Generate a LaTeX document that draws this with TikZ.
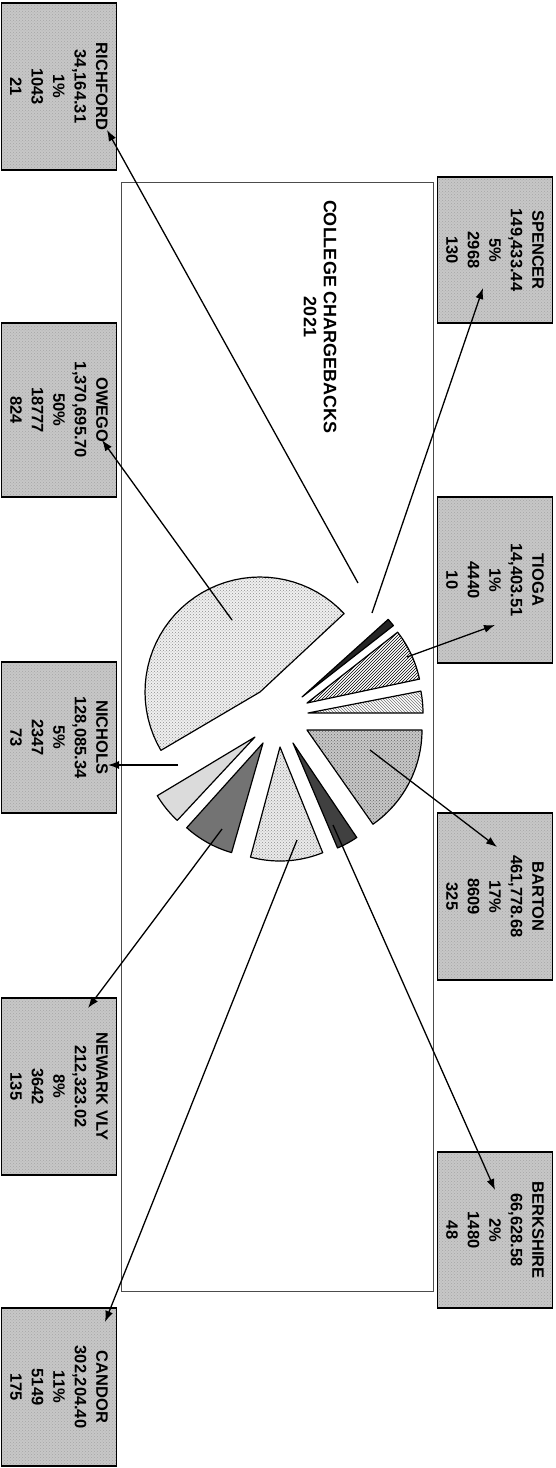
\documentclass[tikz,border=0pt]{standalone}
\usepackage{fontspec}
\setmainfont{Liberation Sans}
\usetikzlibrary{arrows.meta,patterns}
\newcommand\pieslice[6]{\path[slice,#6] (#1,#2) -- plot[domain=#4:#5,samples=40] ({#1+#3*cos(\x)},{#2+#3*sin(\x)}) -- cycle;}
\begin{document}
\begin{tikzpicture}[x=1pt,y=-1pt,
  lbl/.style={draw=black,line width=1.8pt,preaction={fill=black!22},pattern=crosshatch dots,pattern color=black!35,rotate=-90,inner sep=0pt,minimum height=115pt,align=center,font=\fontsize{16.5}{21.5}\selectfont\bfseries},
  lead/.style={line width=1.3pt,-{Latex[length=11pt,width=8pt]}},
  slice/.style={draw=black,line width=1.2pt,line join=round}
]
\useasboundingbox (0,0) rectangle (556,1468);
\fill[white] (0,0) rectangle (556,1468);
% frame
\draw[line width=0.7pt,black!70] (121,182) rectangle (433,1291);
\node[rotate=-90,align=center,font=\fontsize{18}{20}\selectfont\bfseries] (title) at (320,317) {COLLEGE CHARGEBACKS\\2021};
% pie slices
\pieslice{260}{692}{115}{149.5}{317}{preaction={fill=black!6},pattern=crosshatch dots,pattern color=black!45}
\pieslice{302}{697}{116}{318}{322}{fill=black!85}
\pieslice{307}{703}{115}{322}{348}{pattern=north east lines}
\pieslice{308}{713}{115}{349}{360}{pattern=north west lines,pattern color=black!55}
\pieslice{307}{730}{115}{0}{55}{preaction={fill=black!22},pattern=crosshatch dots,pattern color=black!60}
\pieslice{293}{743}{114}{56}{67}{fill=black!75}
\pieslice{280}{747}{114}{68}{105}{preaction={fill=black!8},pattern=crosshatch dots,pattern color=black!45}
\pieslice{263}{743}{114}{106}{132}{fill=black!55}
\pieslice{255}{737}{114}{133}{149}{fill=black!14}
% label boxes
\node[lbl,minimum width=167pt] (richford) at (59,86.5) {RICHFORD\\34,164.31\\1\%\\1043\\21};
\node[lbl,minimum width=174pt] (owego) at (59,410) {OWEGO\\1,370,695.70\\50\%\\18777\\824};
\node[lbl,minimum width=151pt] (nichols) at (59,737.5) {NICHOLS\\128,085.34\\5\%\\2347\\73};
\node[lbl,minimum width=177pt] (newark) at (59,1086.5) {NEWARK VLY\\212,323.02\\8\%\\3642\\135};
\node[lbl,minimum width=158pt] (candor) at (59,1387) {CANDOR\\302,204.40\\11\%\\5149\\175};
\node[lbl,minimum width=146pt] (spencer) at (495,250) {SPENCER\\149,433.44\\5\%\\2968\\130};
\node[lbl,minimum width=166pt] (tioga) at (495,580) {TIOGA\\14,403.51\\1\%\\4440\\10};
\node[lbl,minimum width=167pt] (barton) at (495,896.5) {BARTON\\461,778.68\\17\%\\8609\\325};
\node[lbl,minimum width=156pt] (berkshire) at (495,1230) {BERKSHIRE\\66,628.58\\2\%\\1480\\48};
% leader coordinates
\coordinate (richS) at (358,583);  \coordinate (richT) at (107,130);
\coordinate (oweS) at (232,620);   \coordinate (oweT) at (102,440);
\coordinate (spenS) at (372,613);  \coordinate (spenT) at (483,288);
\coordinate (tioS) at (407,657);   \coordinate (tioT) at (495,625);
\coordinate (barS) at (370,750);   \coordinate (barT) at (497,847);
\coordinate (berS) at (333,825);   \coordinate (berT) at (495,1190);
\coordinate (canS) at (297,840);   \coordinate (canT) at (105,1322);
\coordinate (newS) at (222,829);   \coordinate (newT) at (88,1008);
\coordinate (nicS) at (178,765);   \coordinate (nicT) at (108,765);
\draw[lead] (richS) -- (richT);
\draw[lead] (oweS) -- (oweT);
\draw[lead] (spenS) -- (spenT);
\draw[lead] (tioS) -- (tioT);
\draw[lead] (barS) -- (barT);
\draw[lead] (berS) -- (berT);
\draw[lead] (canS) -- (canT);
\draw[lead] (newS) -- (newT);
\draw[lead] (nicS) -- (nicT);
\end{tikzpicture}
\end{document}
